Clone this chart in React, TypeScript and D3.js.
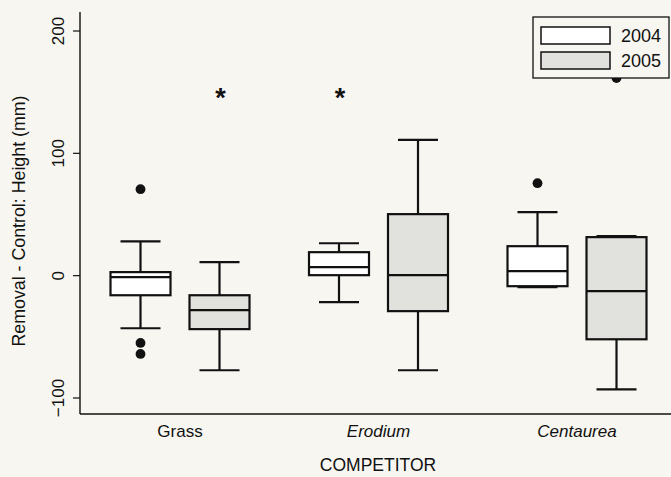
import React from 'react';
import * as d3 from 'd3';

const competitors = ['Grass', 'Erodium', 'Centaurea'];
const years = ['2004', '2005'];
const yTicks = [-100, 0, 100, 200];

// [lowWhisker, q1, median, q3, highWhisker] per competitor, per year
const stats2004 = [
  [-43, -16, -1.2, 2.9, 28],
  [-21.7, 0.4, 7, 19.2, 26.5],
  [-9.4, -8.6, 3.7, 24.1, 51.9],
];
const stats2005 = [
  [-77.3, -43.7, -28.2, -16, 11],
  [-77.3, -29, 0.4, 50.3, 111],
  [-93, -52, -12.7, 31.5, 32.3],
];
const outliers2004 = [[70.7, -55, -64], [], [75.6]];
const outliers2005 = [[], [], [161.5]];
// far outliers (asterisks): [competitor, year, value]
const farOutliers: [string, string, number][] = [
  ['Grass', '2005', 149],
  ['Erodium', '2004', 149],
];

const fills: Record<string, string> = { '2004': '#ffffff', '2005': '#e1e1dd' };
const font = '"Liberation Sans", Arial, sans-serif';

export default function App() {
  const width = 671;
  const height = 477;
  const left = 80;
  const bottom = 414;

  const y = d3.scaleLinear().domain([-100, 200]).range([398, 31]);
  const x = d3.scalePoint().domain(competitors).range([180, 577]);
  const off = d3.scalePoint().domain(years).range([-39.5, 39.5]);
  const boxW = 60;
  const capW = 40;

  const series = [
    { year: '2004', stats: stats2004, outs: outliers2004 },
    { year: '2005', stats: stats2005, outs: outliers2005 },
  ];

  return (
    <svg
      width={width}
      height={height}
      style={{ position: 'absolute', left: 0, top: 0, background: '#f7f6f0' }}
    >
      <rect x={0} y={0} width={width} height={height} fill="#f7f6f0" />
      {/* axes */}
      <line x1={left} x2={left} y1={12} y2={bottom} stroke="#111" strokeWidth={1.4} />
      <line x1={left} x2={width} y1={bottom} y2={bottom} stroke="#111" strokeWidth={1.4} />
      {yTicks.map((t) => (
        <g key={t}>
          <line x1={left - 7} x2={left} y1={y(t)} y2={y(t)} stroke="#111" strokeWidth={1.2} />
          <text
            transform={`translate(${left - 16},${y(t)}) rotate(-90)`}
            textAnchor="middle"
            fontFamily={font}
            fontSize={17}
            fill="#111"
          >
            {t === -100 ? '\u2212100' : t}
          </text>
        </g>
      ))}
      <text
        transform={`translate(25,221) rotate(-90)`}
        textAnchor="middle"
        fontFamily={font}
        fontSize={17.8}
        fill="#111"
      >
        Removal - Control: Height (mm)
      </text>
      {competitors.map((c, i) => (
        <text
          key={c}
          x={x(c)}
          y={437}
          textAnchor="middle"
          fontFamily={font}
          fontSize={17}
          fontStyle={i === 0 ? 'normal' : 'italic'}
          fill="#111"
        >
          {c}
        </text>
      ))}
      <text x={378} y={471} textAnchor="middle" fontFamily={font} fontSize={17.5} fill="#111">
        COMPETITOR
      </text>

      {/* boxes */}
      {series.map((s) =>
        competitors.map((c, i) => {
          const cx = (x(c) as number) + (off(s.year) as number);
          const [lo, q1, med, q3, hi] = s.stats[i];
          return (
            <g key={s.year + c} stroke="#111" strokeWidth={2.2}>
              <line x1={cx} x2={cx} y1={y(hi)} y2={y(q3)} />
              <line x1={cx} x2={cx} y1={y(q1)} y2={y(lo)} />
              <line x1={cx - capW / 2} x2={cx + capW / 2} y1={y(hi)} y2={y(hi)} />
              <line x1={cx - capW / 2} x2={cx + capW / 2} y1={y(lo)} y2={y(lo)} />
              <rect
                x={cx - boxW / 2}
                y={y(q3)}
                width={boxW}
                height={y(q1) - y(q3)}
                fill={fills[s.year]}
              />
              <line x1={cx - boxW / 2} x2={cx + boxW / 2} y1={y(med)} y2={y(med)} />
              {s.outs[i].map((v, k) => (
                <circle key={k} cx={cx} cy={y(v)} r={4.9} fill="#111" stroke="none" />
              ))}
            </g>
          );
        })
      )}
      {farOutliers.map(([c, yr, v]) => (
        <text
          key={c + yr}
          x={(x(c) as number) + (off(yr) as number) + 1}
          y={y(v) + 14}
          textAnchor="middle"
          fontFamily={font}
          fontSize={27}
          fontWeight="bold"
          fill="#111"
        >
          *
        </text>
      ))}

      {/* legend */}
      <g>
        <rect x={533} y={17} width={136} height={61} fill="#f7f6f0" stroke="#111" strokeWidth={1.3} />
        {years.map((yr, k) => (
          <g key={yr}>
            <rect
              x={541}
              y={27 + k * 25}
              width={69}
              height={17}
              fill={fills[yr]}
              stroke="#111"
              strokeWidth={1.5}
            />
            <text x={621} y={42 + k * 25} fontFamily={font} fontSize={18} fill="#111">
              {yr}
            </text>
          </g>
        ))}
      </g>
    </svg>
  );
}
